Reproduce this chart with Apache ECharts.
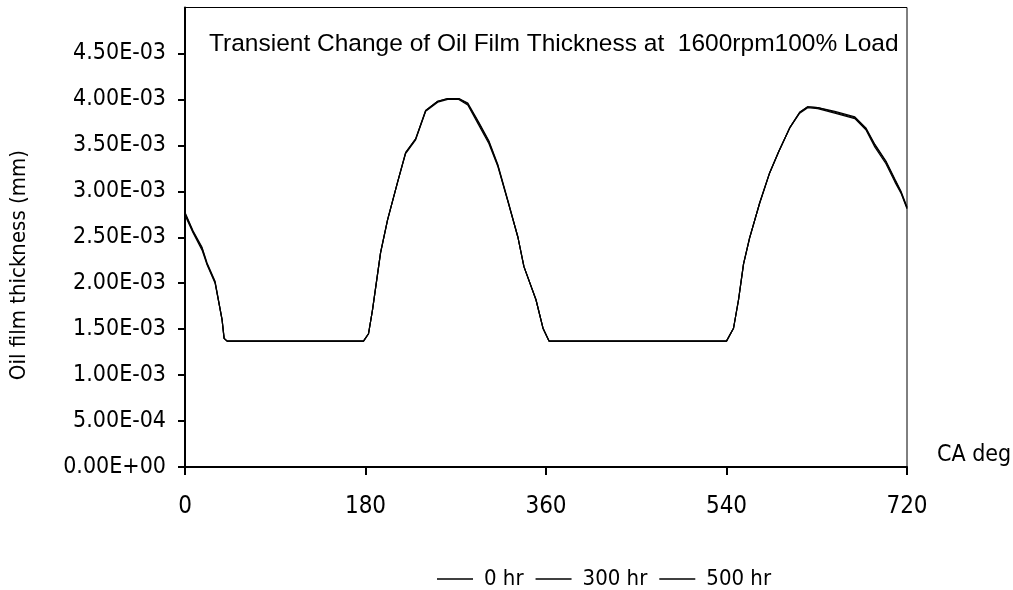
<!DOCTYPE html>
<html>
<head>
<meta charset="utf-8">
<title>Oil Film Thickness</title>
<script src="https://cdn.jsdelivr.net/npm/echarts@6/dist/echarts.min.js"></script>
<style>
  html, body { margin: 0; padding: 0; background: #fff; }
  #main { width: 1013px; height: 590px; }
</style>
</head>
<body>
<div id="main"></div>
<script>
// crank angle (deg) and film thickness (x1e-3 mm)
const caDeg = [0, 8, 17, 22, 30, 37, 39, 42, 100, 178, 183, 187, 195, 202, 212, 220, 230, 240, 252, 262,
  273, 282, 293, 303, 312, 322, 332, 338, 350, 357, 363, 450, 540, 547, 552, 557, 563, 573, 583, 592,
  603, 613, 621, 631, 648, 668, 679, 688, 699, 708, 714, 720]
const hr0 = [2.74, 2.55, 2.36, 2.20, 2.00, 1.60, 1.40, 1.37, 1.37, 1.37, 1.45, 1.71, 2.33, 2.69, 3.10, 3.41, 3.56, 3.87, 3.97, 4.00,
  4.00, 3.94, 3.72, 3.52, 3.27, 2.89, 2.50, 2.18, 1.82, 1.51, 1.37, 1.37, 1.37, 1.51, 1.82, 2.21, 2.49, 2.87, 3.20, 3.43,
  3.69, 3.85, 3.91, 3.90, 3.85, 3.79, 3.67, 3.48, 3.30, 3.10, 2.98, 2.81]
const hr300 = [2.76, 2.56, 2.38, 2.21, 2.01, 1.60, 1.40, 1.37, 1.37, 1.37, 1.45, 1.71, 2.33, 2.69, 3.10, 3.42, 3.57, 3.88, 3.98, 4.01,
  4.01, 3.95, 3.74, 3.54, 3.28, 2.89, 2.50, 2.18, 1.82, 1.51, 1.37, 1.37, 1.37, 1.51, 1.82, 2.21, 2.49, 2.87, 3.20, 3.43,
  3.69, 3.86, 3.92, 3.91, 3.86, 3.80, 3.68, 3.50, 3.32, 3.12, 2.99, 2.82]
const hr500 = [2.77, 2.57, 2.39, 2.22, 2.02, 1.60, 1.40, 1.37, 1.37, 1.37, 1.45, 1.71, 2.33, 2.69, 3.10, 3.42, 3.57, 3.88, 3.98, 4.01,
  4.01, 3.96, 3.75, 3.55, 3.29, 2.90, 2.50, 2.18, 1.82, 1.51, 1.37, 1.37, 1.37, 1.51, 1.82, 2.21, 2.49, 2.87, 3.20, 3.43,
  3.69, 3.86, 3.92, 3.91, 3.87, 3.81, 3.69, 3.51, 3.33, 3.13, 3.00, 2.83]
const seriesNames = ['0 hr', '300 hr', '500 hr']
const yTicks = [0, 0.0005, 0.001, 0.0015, 0.002, 0.0025, 0.003, 0.0035, 0.004, 0.0045]

const narrow = '"Liberation Sans Narrow", "DejaVu Sans Condensed", "Liberation Sans", sans-serif'

// 4.5e-3 -> 4.50E-03
function sci(v) {
  const parts = v.toExponential(2).split('e')
  let exp = parseInt(parts[1], 10)
  const sign = exp < 0 ? '-' : '+'
  exp = Math.abs(exp)
  return parts[0] + 'E' + sign + (exp < 10 ? '0' + exp : exp)
}

function pairs(ys) {
  return caDeg.map((x, i) => [x, ys[i] / 1000])
}

const chart = echarts.init(document.getElementById('main'))

const option = {
  animation: false,
  backgroundColor: '#fff',
  title: {
    text: 'Transient Change of Oil Film Thickness at  1600rpm100% Load',
    left: 204,
    top: 27,
    textStyle: {
      fontFamily: '"Liberation Sans", Arial, sans-serif',
      fontSize: 24.5,
      fontWeight: 'normal',
      color: '#000'
    }
  },
  // y axis title drawn as text so it can sit a bit below the axis middle, as in the picture
  graphic: [{
    type: 'text',
    left: 8,
    top: 150,
    rotation: Math.PI / 2,
    style: {
      text: 'Oil film thickness (mm)',
      font: '22px ' + narrow,
      fill: '#000'
    }
  }],
  legend: {
    data: seriesNames,
    left: 432,
    top: 563,
    icon: 'rect',
    itemWidth: 36,
    itemHeight: 1.5,
    itemGap: 12,
    itemStyle: { color: '#000' },
    textStyle: { fontFamily: narrow, fontSize: 22, color: '#000', padding: [0, 0, 0, 6] }
  },
  grid: {
    left: 185,
    right: 106,
    top: 7.5,
    bottom: 123,
    outerBoundsMode: 'none',
    show: true,
    borderColor: '#000',
    borderWidth: 1
  },
  xAxis: {
    type: 'value',
    min: 0,
    max: 720,
    interval: 180,
    name: 'CA deg',
    nameGap: 30,
    nameTextStyle: {
      fontFamily: narrow,
      fontSize: 23,
      color: '#000',
      align: 'left',
      verticalAlign: 'bottom',
      padding: [0, 0, 0, 0]
    },
    axisLine: { lineStyle: { color: '#000', width: 2 } },
    axisTick: { length: 8, lineStyle: { color: '#000', width: 2 } },
    axisLabel: { margin: 28, fontFamily: narrow, fontSize: 24, color: '#000' },
    splitLine: { show: false }
  },
  yAxis: {
    type: 'value',
    min: 0,
    max: 0.005,
    axisLine: { show: true, lineStyle: { color: '#000', width: 2 } },
    axisTick: { show: true, length: 7, customValues: yTicks, lineStyle: { color: '#000', width: 2 } },
    axisLabel: {
      margin: 19,
      customValues: yTicks,
      fontFamily: narrow,
      fontSize: 23,
      color: '#000',
      formatter: sci
    },
    splitLine: { show: false }
  },
  series: [
    { name: seriesNames[0], type: 'line', symbol: 'none', data: pairs(hr0), lineStyle: { color: '#000', width: 1.2 }, itemStyle: { color: '#000' } },
    { name: seriesNames[1], type: 'line', symbol: 'none', data: pairs(hr300), lineStyle: { color: '#000', width: 1.2 }, itemStyle: { color: '#000' } },
    { name: seriesNames[2], type: 'line', symbol: 'none', data: pairs(hr500), lineStyle: { color: '#000', width: 1.2 }, itemStyle: { color: '#000' } }
  ]
}

chart.setOption(option)
</script>
</body>
</html>
